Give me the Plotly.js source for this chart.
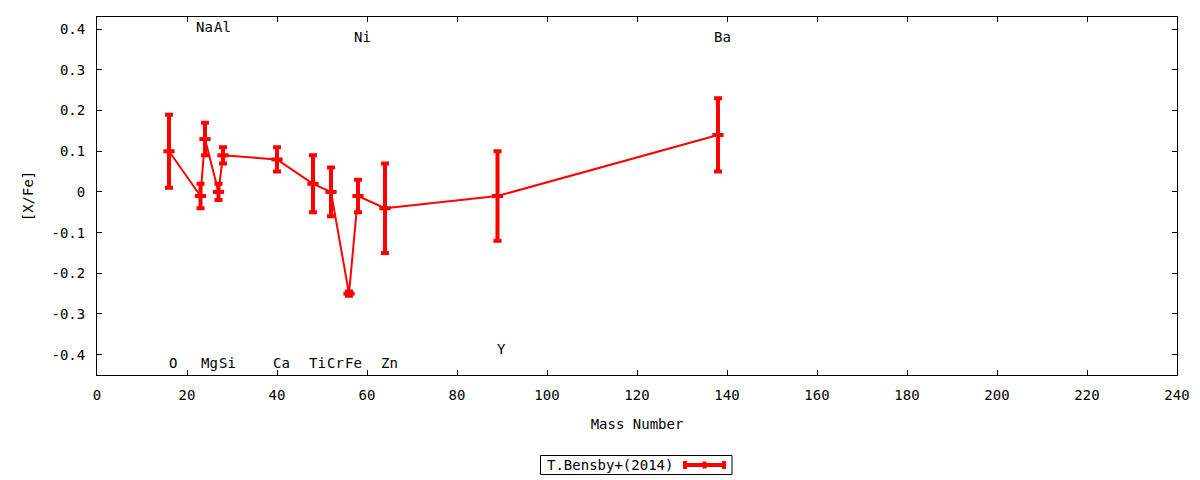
<!DOCTYPE html>
<html lang="en">
  <head>
    <meta charset="utf-8">
    <title>[X/Fe] vs Mass Number</title>
    <script src="https://cdn.plot.ly/plotly-3.0.1.min.js" charset="utf-8"></script>
    <style>
      body { margin: 0; background: #fff; }
    </style>
  </head>
  <body>
    <div id="plot" style="width:1200px;height:480px"></div>
    <script type="text/javascript">
      const FONT = 'DejaVu Sans Mono, monospace';
      const FONTSIZE = 14;

      // T.Bensby+(2014) abundances
      const elements = ['O', 'Na', 'Mg', 'Al', 'Si', 'Ca', 'Ti', 'Cr', 'Fe', 'Ni', 'Zn', 'Y', 'Ba'];
      const massNumber = [16, 23, 24, 27, 28, 40, 48, 52, 56, 58, 64, 89, 138];
      const xFe = [0.10, -0.01, 0.13, 0.00, 0.09, 0.08, 0.02, 0.00, -0.25, -0.01, -0.04, -0.01, 0.14];
      const xFeErr = [0.09, 0.03, 0.04, 0.02, 0.02, 0.03, 0.07, 0.06, 0.005, 0.04, 0.11, 0.11, 0.09];

      // where each element name is written
      const labelY = [-0.42, 0.405, -0.42, 0.405, -0.42, -0.42, -0.42, -0.42, -0.42, 0.38, -0.42, -0.385, 0.38];

      const xTicks = [0, 20, 40, 60, 80, 100, 120, 140, 160, 180, 200, 220, 240];
      const yTickVals = [-0.4, -0.3, -0.2, -0.1, 0, 0.1, 0.2, 0.3, 0.4];
      const yTickText = ['-0.4', '-0.3', '-0.2', '-0.1', '0', '0.1', '0.2', '0.3', '0.4'];

      const seriesName = 'T.Bensby+(2014)';

      // plot box in pixels, used for the hand-made legend
      const M = {l: 97, r: 23, t: 17, b: 105};
      const W = 1200, H = 480;
      const pw = W - M.l - M.r, ph = H - M.t - M.b;
      const px = x => (x - M.l) / pw;
      const py = y => (H - M.b - y) / ph;

      let trace = {
        x: massNumber,
        y: xFe,
        type: 'scatter',
        mode: 'lines+markers',
        name: seriesName,
        line: {color: '#ff0000', width: 2},
        marker: {symbol: 'line-ew', size: 8, color: '#ff0000', line: {color: '#ff0000', width: 4}},
        error_y: {type: 'data', array: xFeErr, visible: true, color: '#ff0000', thickness: 4, width: 4},
        showlegend: false,
        hoverinfo: 'x+y'
      };

      let annotations = elements.map((el, i) => ({
        x: massNumber[i], y: labelY[i], xref: 'x', yref: 'y',
        text: el, showarrow: false, xanchor: 'center', yanchor: 'middle', xshift: 4,
        font: {family: FONT, size: FONTSIZE, color: 'black'}
      }));

      // legend: text then sample line with error bar
      const legY = 465;
      annotations.push({
        x: px(675), y: py(legY), xref: 'paper', yref: 'paper',
        text: seriesName, showarrow: false, xanchor: 'right', yanchor: 'middle',
        font: {family: FONT, size: FONTSIZE, color: 'black'}
      });
      let shapes = [
        {type: 'rect', xref: 'paper', yref: 'paper', x0: px(540.5), x1: px(732), y0: py(455.5), y1: py(474.5),
          line: {color: 'black', width: 1}, fillcolor: 'rgba(0,0,0,0)'},
        {type: 'line', xref: 'paper', yref: 'paper', x0: px(683), x1: px(726), y0: py(legY), y1: py(legY),
          line: {color: '#ff0000', width: 4}},
        {type: 'line', xref: 'paper', yref: 'paper', x0: px(685), x1: px(685), y0: py(legY - 4), y1: py(legY + 4),
          line: {color: '#ff0000', width: 4}},
        {type: 'line', xref: 'paper', yref: 'paper', x0: px(724), x1: px(724), y0: py(legY - 4), y1: py(legY + 4),
          line: {color: '#ff0000', width: 4}},
        {type: 'line', xref: 'paper', yref: 'paper', x0: px(704.5), x1: px(704.5), y0: py(legY - 3.5), y1: py(legY + 3.5),
          line: {color: '#ff0000', width: 4}}
      ];

      let layout = {
        width: W,
        height: H,
        margin: M,
        paper_bgcolor: 'white',
        plot_bgcolor: 'white',
        font: {family: FONT, size: FONTSIZE, color: 'black'},
        showlegend: false,
        xaxis: {
          range: [0, 240],
          tickvals: xTicks,
          ticks: 'inside',
          ticklen: 5,
          tickcolor: 'black',
          mirror: 'allticks',
          showline: true,
          linecolor: 'black',
          linewidth: 1,
          showgrid: false,
          zeroline: false,
          ticklabelstandoff: 7,
          tickfont: {family: FONT, size: FONTSIZE},
          title: {text: 'Mass Number', standoff: 17, font: {family: FONT, size: FONTSIZE}},
          automargin: false
        },
        yaxis: {
          range: [-0.45, 0.43],
          tickvals: yTickVals,
          ticktext: yTickText,
          ticks: 'inside',
          ticklen: 5,
          tickcolor: 'black',
          mirror: 'allticks',
          showline: true,
          linecolor: 'black',
          linewidth: 1,
          showgrid: false,
          zeroline: false,
          ticklabelstandoff: 8,
          tickfont: {family: FONT, size: FONTSIZE},
          title: {text: '[X/Fe]', standoff: 14, font: {family: FONT, size: FONTSIZE}},
          automargin: false
        },
        annotations: annotations,
        shapes: shapes
      };

      Plotly.newPlot(document.getElementById('plot'), [trace], layout, {displayModeBar: false, staticPlot: true});
    </script>
  </body>
</html>
